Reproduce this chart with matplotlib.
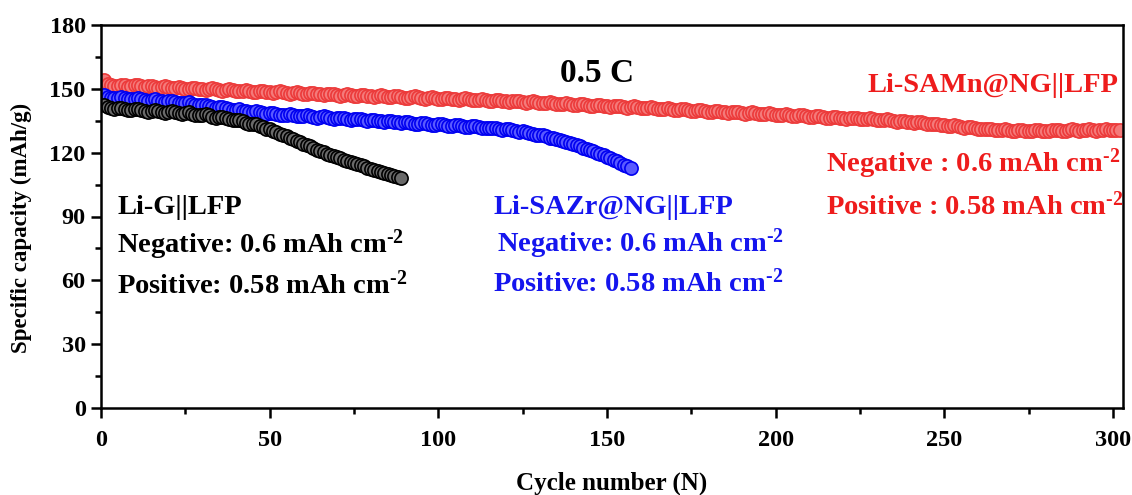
import matplotlib
matplotlib.use("Agg")
import matplotlib.pyplot as plt
from matplotlib.ticker import MultipleLocator

plt.rcParams['font.family'] = ['Liberation Serif', 'DejaVu Serif']
plt.rcParams['font.weight'] = 'bold'
plt.rcParams['mathtext.fontset'] = 'custom'
plt.rcParams['mathtext.rm'] = 'Liberation Serif:bold'
plt.rcParams['mathtext.bf'] = 'Liberation Serif:bold'
plt.rcParams['mathtext.it'] = 'Liberation Serif:bold'

# ---- data ----
samn_capacity = [
    154.0, 152.5, 151.8, 151.2, 151.5, 152.0, 151.6, 151.0, 151.4, 152.0,
    151.7, 151.2, 151.0, 151.5, 151.3, 150.8, 150.5, 150.9, 151.2, 150.7,
    150.4, 150.6, 150.9, 150.5, 150.1, 149.8, 150.2, 150.5, 150.0, 149.7,
    149.5, 149.9, 150.2, 149.8, 149.4, 149.2, 149.6, 149.9, 149.5, 149.1,
    148.8, 149.2, 149.5, 149.0, 148.6, 148.4, 148.8, 149.1, 148.7, 148.3,
    148.1, 148.5, 148.8, 148.4, 148.0, 147.8, 148.2, 148.5, 148.1, 147.7,
    147.5, 147.9, 148.2, 147.8, 147.4, 147.1, 147.5, 147.8, 147.4, 147.0,
    146.8, 147.2, 147.5, 147.1, 146.7, 146.5, 146.9, 147.2, 146.8, 146.4,
    146.3, 146.7, 147.0, 146.6, 146.2, 146.0, 146.4, 146.7, 146.3, 145.9,
    145.7, 146.1, 146.4, 146.0, 145.6, 145.4, 145.8, 146.1, 145.7, 145.3,
    145.2, 145.5, 145.8, 145.4, 145.0, 144.8, 145.2, 145.5, 145.1, 144.7,
    144.6, 144.9, 145.2, 144.8, 144.4, 144.2, 144.6, 144.9, 144.5, 144.1,
    144.0, 144.3, 144.5, 144.1, 143.7, 143.5, 143.9, 144.1, 143.7, 143.3,
    143.2, 143.5, 143.7, 143.3, 142.9, 142.8, 143.1, 143.3, 142.9, 142.5,
    142.4, 142.7, 142.9, 142.5, 142.1, 142.0, 142.3, 142.5, 142.1, 141.7,
    141.6, 141.9, 142.1, 141.7, 141.3, 141.2, 141.5, 141.7, 141.3, 140.9,
    140.8, 141.1, 141.3, 140.9, 140.5, 140.4, 140.7, 140.9, 140.5, 140.1,
    140.0, 140.3, 140.5, 140.1, 139.7, 139.6, 139.9, 140.1, 139.7, 139.3,
    139.2, 139.5, 139.7, 139.3, 138.9, 138.8, 139.1, 139.3, 138.9, 138.5,
    138.4, 138.7, 138.9, 138.5, 138.1, 138.0, 138.3, 138.5, 138.1, 137.7,
    137.6, 137.9, 138.1, 137.7, 137.3, 137.2, 137.5, 137.7, 137.3, 136.9,
    136.8, 137.1, 137.3, 136.9, 136.5, 136.4, 136.7, 136.9, 136.5, 136.1,
    136.0, 136.3, 136.5, 136.1, 135.7, 135.6, 135.9, 136.1, 135.7, 135.3,
    135.2, 135.4, 135.6, 135.2, 134.8, 134.6, 134.8, 135.0, 134.6, 134.2,
    134.0, 134.2, 134.3, 133.9, 133.5, 133.3, 133.5, 133.6, 133.2, 132.8,
    132.6, 132.7, 132.8, 132.4, 132.0, 131.8, 131.9, 132.0, 131.6, 131.3,
    131.1, 131.2, 131.3, 131.0, 130.7, 130.6, 130.8, 130.9, 130.6, 130.4,
    130.3, 130.5, 130.7, 130.4, 130.2, 130.2, 130.5, 130.7, 130.4, 130.2,
    130.3, 130.6, 130.8, 130.5, 130.3, 130.4, 130.7, 130.9, 130.6, 130.4,
    130.5, 130.8, 130.9, 130.6, 130.4, 130.5, 130.8, 130.9, 130.6, 130.5,
    130.7, 130.8,
]

sazr_capacity = [
    147.0, 146.2, 145.8, 145.5, 145.9, 146.1, 145.6, 145.2, 145.0, 145.4,
    145.6, 145.1, 144.7, 144.5, 144.9, 145.0, 144.5, 144.1, 143.9, 144.3,
    144.4, 143.9, 143.5, 143.2, 143.5, 143.6, 143.0, 142.5, 142.2, 142.4,
    142.5, 141.9, 141.4, 141.1, 141.3, 141.4, 140.8, 140.3, 140.0, 140.2,
    140.3, 139.8, 139.4, 139.1, 139.3, 139.4, 139.0, 138.6, 138.4, 138.6,
    138.7, 138.3, 137.9, 137.7, 137.9, 138.0, 137.6, 137.2, 137.0, 137.3,
    137.5, 137.1, 136.7, 136.5, 136.8, 137.0, 136.6, 136.2, 136.0, 136.3,
    136.5, 136.1, 135.7, 135.5, 135.8, 136.0, 135.6, 135.2, 135.0, 135.3,
    135.5, 135.1, 134.7, 134.5, 134.8, 135.0, 134.6, 134.2, 134.0, 134.3,
    134.5, 134.1, 133.7, 133.5, 133.8, 134.0, 133.6, 133.2, 133.0, 133.3,
    133.5, 133.1, 132.7, 132.5, 132.8, 133.0, 132.6, 132.2, 132.0, 132.3,
    132.4, 132.0, 131.6, 131.4, 131.7, 131.8, 131.4, 131.0, 130.8, 131.0,
    131.0, 130.6, 130.2, 129.9, 130.0, 129.9, 129.4, 128.9, 128.5, 128.4,
    128.1, 127.6, 127.1, 126.7, 126.4, 126.0, 125.5, 125.0, 124.5, 124.1,
    123.6, 123.0, 122.4, 121.8, 121.2, 120.6, 120.0, 119.4, 118.8, 118.1,
    117.4, 116.7, 116.0, 115.2, 114.4, 113.6, 112.8,
]

g_capacity = [
    142.4, 141.5, 141.0, 140.6, 140.9, 141.2, 140.7, 140.2, 139.9, 140.3,
    140.6, 140.1, 139.6, 139.3, 139.7, 140.1, 139.6, 139.1, 138.8, 139.2,
    139.5, 139.0, 138.5, 138.2, 138.6, 138.9, 138.4, 137.9, 137.6, 137.9,
    138.1, 137.5, 136.9, 136.5, 136.7, 136.8, 136.2, 135.6, 135.2, 135.3,
    135.3, 134.7, 134.1, 133.6, 133.5, 133.3, 132.6, 131.9, 131.3, 130.9,
    130.4, 129.7, 128.9, 128.2, 127.7, 127.1, 126.3, 125.5, 124.8, 124.3,
    123.7, 122.9, 122.1, 121.4, 120.9, 120.3, 119.6, 118.9, 118.3, 117.8,
    117.3, 116.7, 116.1, 115.6, 115.1, 114.6, 114.0, 113.5, 113.0, 112.5,
    112.0, 111.5, 111.0, 110.5, 110.1, 109.6, 109.1, 108.6, 108.1,
]

samn_cycles = list(range(1, len(samn_capacity) + 1))
sazr_cycles = list(range(1, len(sazr_capacity) + 1))
g_cycles = list(range(1, len(g_capacity) + 1))

W, H = 1132, 495
fig = plt.figure(figsize=(W / 100, H / 100), dpi=100)
ax = fig.add_axes([101 / W, 1 - 408 / H, (1123 - 101) / W, (408 - 25) / H])

def series(x, y, face, edge):
    ax.plot(x, y, linestyle='none', marker='o', markersize=9.5,
            markerfacecolor=face, markeredgecolor=edge, markeredgewidth=1.2)

series(samn_cycles, samn_capacity, '#f47a7a', '#ec3a3a')
series(sazr_cycles, sazr_capacity, '#5a5aff', '#0000f0')
series(g_cycles, g_capacity, '#6a6a6a', '#000000')

ax.set_xlim(0, 303)
ax.set_ylim(0, 180)
ax.xaxis.set_major_locator(MultipleLocator(50))
ax.xaxis.set_minor_locator(MultipleLocator(25))
ax.yaxis.set_major_locator(MultipleLocator(30))
ax.yaxis.set_minor_locator(MultipleLocator(15))
ax.tick_params(which='both', direction='out', width=1.8, top=False, right=False)
ax.tick_params(which='major', length=7, labelsize=17.5)
ax.tick_params(axis='x', which='major', pad=9)
ax.tick_params(axis='y', which='major', pad=4)
ax.tick_params(which='minor', length=4)
for lab in ax.get_xticklabels() + ax.get_yticklabels():
    lab.set_fontweight('bold')
for s in ax.spines.values():
    s.set_linewidth(1.8)

ax.set_xlabel('Cycle number (N)', fontsize=18, fontweight='bold')
ax.set_ylabel('Specific capacity (mAh/g)', fontsize=16.5, fontweight='bold')
ax.xaxis.set_label_coords(0.5, -0.165)
ax.yaxis.set_label_coords(-0.068, 0.47)

SUP = r'$^{\text{-2}}$'

def ftxt(px, py, s, color='black', size=20.5, ha='left'):
    fig.text(px / W, 1 - py / H, s, color=color, fontsize=size,
             fontweight='bold', ha=ha, va='center')

ftxt(597, 73, '0.5 C', size=24, ha='center')

red = '#ee1c1c'
ftxt(1118, 86, 'Li-SAMn@NG||LFP', color=red, ha='right')
ftxt(826, 164, 'Negative : 0.6 mAh cm' + SUP, color=red)
ftxt(826, 206, 'Positive : 0.58 mAh cm' + SUP, color=red)

ftxt(117, 207, 'Li-G||LFP')
ftxt(117, 245, 'Negative: 0.6 mAh cm' + SUP)
ftxt(117, 285, 'Positive: 0.58 mAh cm' + SUP)

blue = '#1515ee'
ftxt(493, 207, 'Li-SAZr@NG||LFP', color=blue)
ftxt(497, 244, 'Negative: 0.6 mAh cm' + SUP, color=blue)
ftxt(493, 283, 'Positive: 0.58 mAh cm' + SUP, color=blue)

fig.savefig('out.png', dpi=100)
